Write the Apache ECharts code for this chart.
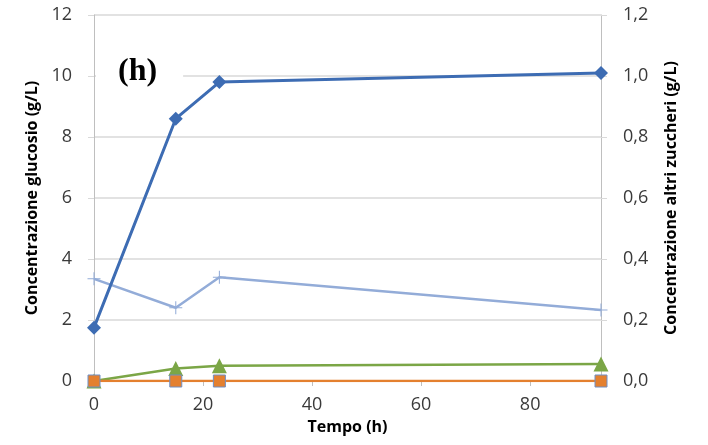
<!DOCTYPE html>
<html>
<head>
<meta charset="utf-8">
<script src="https://cdn.jsdelivr.net/npm/echarts@6/dist/echarts.min.js"></script>
<style>
  html, body { margin: 0; padding: 0; background: #fff; }
  #chart { width: 708px; height: 445px; }
</style>
</head>
<body>
<div id="chart"></div>
<script>
// Sampling times (h)
const tempo = [0, 15, 23, 93];
// Glucose concentration (g/L), left axis
const glucosio = [1.75, 8.6, 9.8, 10.1];
// Other sugars (g/L), right axis
const zucchero1 = [0.335, 0.24, 0.34, 0.233];
const zucchero2 = [0.0, 0.041, 0.05, 0.056];
const zucchero3 = [0.0, 0.0, 0.0, 0.0];

const leftTicks = { min: 0, max: 12, interval: 2 };
const rightTicks = { min: 0, max: 1.2, interval: 0.2 };

const pairs = (xs, ys) => xs.map((x, i) => [x, ys[i]]);

const labelFont = { fontFamily: 'Open Sans', fontSize: 18, color: '#3a3a3a' };
const nameFont = { fontFamily: 'Open Sans', fontSize: 16, fontWeight: 'bold', color: '#000' };
const plusPath = 'path://M4.6,0h0.8v10h-0.8z M0,4.6h10v0.8h-10z';

const chart = echarts.init(document.getElementById('chart'));
chart.setOption({
  animation: false,
  backgroundColor: '#fff',
  title: {
    text: '(h)',
    left: 96,
    top: 48,
    padding: [8, 26, 8, 22],
    backgroundColor: '#fff',
    textStyle: { fontFamily: 'Liberation Serif', fontWeight: 'bold', fontSize: 32, color: '#000' }
  },
  grid: { left: 94, right: 107, top: 15, bottom: 64 },
  xAxis: {
    type: 'value',
    min: 0, max: 93, interval: 20,
    name: 'Tempo (h)', nameLocation: 'middle', nameGap: 38,
    nameTextStyle: nameFont,
    axisLine: { show: true, onZero: false, lineStyle: { color: '#bfbfbf', width: 1 } },
    axisTick: { show: true, inside: false, length: 5, lineStyle: { color: '#bfbfbf' } },
    axisLabel: Object.assign({ margin: 15, showMaxLabel: false }, labelFont),
    splitLine: { show: false }
  },
  yAxis: [
    {
      type: 'value',
      min: leftTicks.min, max: leftTicks.max, interval: leftTicks.interval,
      name: 'Concentrazione glucosio (g/L)', nameLocation: 'middle', nameGap: 52, nameRotate: 90,
      nameTextStyle: nameFont,
      axisLine: { show: true, lineStyle: { color: '#bfbfbf', width: 1 } },
      axisTick: { show: true, length: 6, lineStyle: { color: '#d9d9d9' } },
      axisLabel: Object.assign({ margin: 22 }, labelFont),
      splitLine: { show: true, lineStyle: { color: '#d9d9d9', width: 1.5 } }
    },
    {
      type: 'value',
      min: rightTicks.min, max: rightTicks.max, interval: rightTicks.interval,
      name: 'Concentrazione altri zuccheri (g/L)', nameLocation: 'middle', nameGap: 62, nameRotate: 90,
      nameTextStyle: nameFont,
      axisLine: { show: true, lineStyle: { color: '#bfbfbf', width: 1 } },
      axisTick: { show: true, length: 6, lineStyle: { color: '#d9d9d9' } },
      axisLabel: Object.assign({ margin: 22, formatter: v => v.toFixed(1).replace('.', ',') }, labelFont),
      splitLine: { show: false }
    }
  ],
  series: [
    {
      name: 'zucchero1', type: 'line', yAxisIndex: 1,
      data: pairs(tempo, zucchero1),
      symbol: plusPath, symbolSize: 13,
      lineStyle: { color: '#93acd8', width: 2.5 },
      itemStyle: { color: '#93acd8' }
    },
    {
      name: 'zucchero2', type: 'line', yAxisIndex: 1,
      data: pairs(tempo, zucchero2),
      symbol: 'triangle', symbolSize: 15,
      lineStyle: { color: '#7ba646', width: 2.5 },
      itemStyle: { color: '#7ba646' }
    },
    {
      name: 'zucchero3', type: 'line', yAxisIndex: 1,
      data: pairs(tempo, zucchero3),
      symbol: 'rect', symbolSize: 12,
      lineStyle: { color: '#e4802f', width: 2.5 },
      itemStyle: { color: '#e4802f', borderColor: '#6f8fc6', borderWidth: 1 }
    },
    {
      name: 'glucosio', type: 'line', yAxisIndex: 0,
      data: pairs(tempo, glucosio),
      symbol: 'diamond', symbolSize: 14,
      lineStyle: { color: '#3d6cb3', width: 3 },
      itemStyle: { color: '#3d6cb3' }
    }
  ]
});
</script>
</body>
</html>
